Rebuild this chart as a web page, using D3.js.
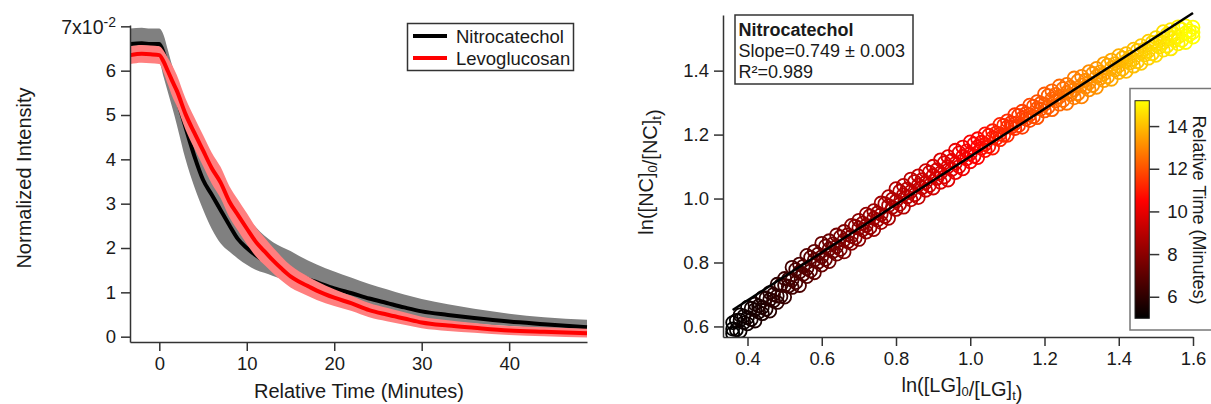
<!DOCTYPE html>
<html>
<head>
<meta charset="utf-8">
<script src="https://cdn.jsdelivr.net/npm/d3@7"></script>
<style>
  body { margin: 0; background: #fff; }
  svg text { font-family: "Liberation Sans", Arial, sans-serif; fill: #1a1a1a; }
</style>
</head>
<body>
<svg id="chart" width="1211" height="404"></svg>
<script>
// ---- left panel: normalized intensity (x10^-2) vs relative time (min) ----
const relTime = [-3.3, -2, -1, 0, 0.5, 1, 1.5, 2, 3, 4, 5, 6, 7, 8, 9, 10, 11, 12, 13, 14, 15, 16, 17, 18, 20, 22, 24, 26, 28, 30, 33, 36, 40, 44, 48.9];
const ncMean  = [6.6, 6.62, 6.6, 6.6, 6.4, 6.05, 5.72, 5.38, 4.72, 4.08, 3.54, 3.2, 2.86, 2.52, 2.2, 2.0, 1.84, 1.71, 1.6, 1.51, 1.44, 1.38, 1.3, 1.23, 1.09, 0.98, 0.86, 0.76, 0.66, 0.57, 0.49, 0.42, 0.34, 0.28, 0.21];
const ncUpper = [6.95, 6.97, 6.95, 6.95, 6.8, 6.45, 6.1, 5.8, 5.25, 4.8, 4.35, 3.95, 3.6, 3.25, 2.95, 2.7, 2.48, 2.28, 2.13, 2.02, 1.93, 1.82, 1.72, 1.63, 1.47, 1.33, 1.19, 1.07, 0.95, 0.85, 0.73, 0.63, 0.52, 0.44, 0.38];
const ncLower = [6.2, 6.22, 6.2, 6.18, 5.85, 5.5, 5.15, 4.78, 4.0, 3.38, 2.87, 2.43, 2.11, 1.92, 1.76, 1.62, 1.51, 1.44, 1.37, 1.3, 1.22, 1.15, 1.07, 1.0, 0.86, 0.75, 0.64, 0.56, 0.48, 0.41, 0.35, 0.3, 0.24, 0.19, 0.13];
const lgMean  = [6.35, 6.38, 6.37, 6.35, 6.2, 5.98, 5.76, 5.55, 5.02, 4.6, 4.2, 3.8, 3.48, 3.05, 2.74, 2.44, 2.15, 1.93, 1.72, 1.53, 1.36, 1.24, 1.14, 1.04, 0.88, 0.75, 0.6, 0.5, 0.41, 0.32, 0.25, 0.2, 0.14, 0.11, 0.08];
const lgUpper = [6.55, 6.58, 6.57, 6.55, 6.45, 6.28, 6.11, 5.9, 5.37, 4.95, 4.55, 4.15, 3.83, 3.4, 3.09, 2.79, 2.48, 2.24, 2.01, 1.8, 1.61, 1.47, 1.36, 1.25, 1.07, 0.92, 0.76, 0.65, 0.55, 0.45, 0.37, 0.31, 0.24, 0.21, 0.18];
const lgLower = [6.15, 6.18, 6.17, 6.15, 5.95, 5.68, 5.41, 5.2, 4.67, 4.25, 3.85, 3.45, 3.13, 2.7, 2.39, 2.09, 1.82, 1.62, 1.43, 1.26, 1.11, 1.01, 0.92, 0.83, 0.69, 0.58, 0.44, 0.35, 0.27, 0.19, 0.13, 0.09, 0.04, 0.01, -0.02];
const timeTicks = [0, 10, 20, 30, 40];
const intensityTicks = [0, 1, 2, 3, 4, 5, 6, 7];
const legendNames = ["Nitrocatechol", "Levoglucosan"];

// ---- right panel: ln([NC]0/[NC]t) vs ln([LG]0/[LG]t), coloured by time ----
// rings read in columns: three per whole step, two per half step
const lnLG = [0.36, 0.38, 0.40, 0.42, 0.44, 0.46, 0.48, 0.50, 0.52, 0.54, 0.56, 0.58, 0.60, 0.62, 0.64, 0.66, 0.68, 0.70, 0.72, 0.74, 0.76, 0.78, 0.80, 0.82, 0.84, 0.86, 0.88, 0.90, 0.92, 0.94, 0.96, 0.98, 1.00, 1.02, 1.04, 1.06, 1.08, 1.10, 1.12, 1.14, 1.16, 1.18, 1.20, 1.22, 1.24, 1.26, 1.28, 1.30, 1.32, 1.34, 1.36, 1.38, 1.40, 1.42, 1.44, 1.46, 1.48, 1.50, 1.52, 1.54, 1.56, 1.58, 1.60];
const lnNCLow  = [0.578, 0.585, 0.608, 0.617, 0.640, 0.648, 0.675, 0.692, 0.722, 0.728, 0.756, 0.768, 0.792, 0.803, 0.826, 0.833, 0.860, 0.872, 0.895, 0.903, 0.925, 0.938, 0.966, 0.973, 0.996, 1.003, 1.026, 1.033, 1.051, 1.058, 1.081, 1.093, 1.115, 1.128, 1.150, 1.158, 1.184, 1.198, 1.219, 1.223, 1.244, 1.253, 1.274, 1.278, 1.295, 1.298, 1.315, 1.318, 1.340, 1.348, 1.369, 1.373, 1.394, 1.398, 1.414, 1.423, 1.439, 1.448, 1.464, 1.468, 1.484, 1.488, 1.505];
const lnNCMid  = [0.592, 0.620, 0.628, 0.652, 0.660, 0.684, 0.695, 0.728, 0.745, 0.770, 0.781, 0.808, 0.818, 0.842, 0.850, 0.870, 0.882, 0.908, 0.916, 0.938, 0.950, 0.978, 0.992, 1.012, 1.022, 1.042, 1.050, 1.072, 1.080, 1.100, 1.110, 1.132, 1.140, 1.162, 1.170, 1.190, 1.202, 1.224, 1.235, 1.252, 1.262, 1.282, 1.295, 1.312, 1.318, 1.332, 1.340, 1.355, 1.362, 1.382, 1.390, 1.408, 1.415, 1.430, 1.436, 1.455, 1.461, 1.480, 1.488, 1.502, 1.506, 1.518, 1.520];
const lnNCHigh = [0.612, 0.636, 0.660, 0.670, 0.690, 0.706, 0.732, 0.750, 0.785, 0.795, 0.822, 0.835, 0.860, 0.868, 0.886, 0.897, 0.916, 0.932, 0.951, 0.962, 0.986, 1.006, 1.031, 1.041, 1.061, 1.071, 1.087, 1.101, 1.121, 1.131, 1.151, 1.161, 1.177, 1.187, 1.202, 1.212, 1.232, 1.243, 1.262, 1.273, 1.292, 1.303, 1.327, 1.337, 1.352, 1.357, 1.377, 1.382, 1.397, 1.407, 1.422, 1.433, 1.447, 1.453, 1.467, 1.478, 1.492, 1.503, 1.522, 1.528, 1.537, 1.540, 1.536];
const scatterTime = [5.0, 5.2, 5.3, 5.5, 5.6, 5.8, 6.0, 6.2, 6.4, 6.6, 6.8, 7.0, 7.2, 7.3, 7.5, 7.7, 7.9, 8.0, 8.2, 8.3, 8.5, 8.6, 8.8, 8.9, 9.1, 9.2, 9.4, 9.5, 9.7, 9.8, 10.0, 10.2, 10.4, 10.5, 10.7, 10.9, 11.1, 11.3, 11.4, 11.6, 11.8, 12.0, 12.1, 12.3, 12.4, 12.6, 12.8, 12.9, 13.1, 13.2, 13.4, 13.6, 13.7, 13.9, 14.0, 14.2, 14.3, 14.5, 14.6, 14.8, 14.9, 15.1, 15.2];
const lnLGHalf = [0.37, 0.39, 0.41, 0.43, 0.45, 0.47, 0.49, 0.51, 0.53, 0.55, 0.57, 0.59, 0.61, 0.63, 0.65, 0.67, 0.69, 0.71, 0.73, 0.75, 0.77, 0.79, 0.81, 0.83, 0.85, 0.87, 0.89, 0.91, 0.93, 0.95, 0.97, 0.99, 1.01, 1.03, 1.05, 1.07, 1.09, 1.11, 1.13, 1.15, 1.17, 1.19, 1.21, 1.23, 1.25, 1.27, 1.29, 1.31, 1.33, 1.35, 1.37, 1.39, 1.41, 1.43, 1.45, 1.47, 1.49, 1.51, 1.53, 1.55, 1.57, 1.59];
const lnNCHalfA = [0.590, 0.612, 0.622, 0.645, 0.654, 0.680, 0.694, 0.726, 0.737, 0.763, 0.774, 0.801, 0.810, 0.834, 0.841, 0.865, 0.877, 0.902, 0.909, 0.933, 0.944, 0.973, 0.982, 1.005, 1.012, 1.034, 1.041, 1.063, 1.068, 1.091, 1.100, 1.124, 1.132, 1.157, 1.163, 1.188, 1.198, 1.223, 1.228, 1.249, 1.256, 1.280, 1.286, 1.305, 1.307, 1.325, 1.328, 1.348, 1.354, 1.376, 1.381, 1.402, 1.405, 1.424, 1.428, 1.449, 1.453, 1.474, 1.477, 1.494, 1.495, 1.512];
const lnNCHalfB = [0.619, 0.632, 0.657, 0.664, 0.689, 0.700, 0.730, 0.748, 0.778, 0.788, 0.816, 0.826, 0.851, 0.858, 0.880, 0.887, 0.914, 0.923, 0.946, 0.955, 0.984, 0.998, 1.023, 1.030, 1.053, 1.059, 1.082, 1.090, 1.112, 1.119, 1.143, 1.149, 1.171, 1.176, 1.198, 1.205, 1.229, 1.237, 1.260, 1.266, 1.289, 1.298, 1.322, 1.326, 1.344, 1.348, 1.368, 1.370, 1.391, 1.396, 1.417, 1.422, 1.440, 1.443, 1.463, 1.468, 1.488, 1.494, 1.514, 1.514, 1.529, 1.525];
const halfTime = [5.1, 5.25, 5.4, 5.55, 5.7, 5.9, 6.1, 6.3, 6.5, 6.7, 6.9, 7.1, 7.25, 7.4, 7.6, 7.8, 7.95, 8.1, 8.25, 8.4, 8.55, 8.7, 8.85, 9.0, 9.15, 9.3, 9.45, 9.6, 9.75, 9.9, 10.1, 10.3, 10.45, 10.6, 10.8, 11.0, 11.2, 11.35, 11.5, 11.7, 11.9, 12.05, 12.2, 12.35, 12.5, 12.7, 12.85, 13.0, 13.15, 13.3, 13.5, 13.65, 13.8, 13.95, 14.1, 14.25, 14.4, 14.55, 14.7, 14.85, 15.0, 15.15];
const fitSlope = 0.749, fitIntercept = 0.382, fitRange = [0.36, 1.60];
const lgTicks = [0.4, 0.6, 0.8, 1.0, 1.2, 1.4, 1.6];
const ncTicks = [0.6, 0.8, 1.0, 1.2, 1.4];
const colorTicks = [6, 8, 10, 12, 14];
const colorStops = [5, 10.5, 15.2];
const colorRange = ["#000000", "#ff0000", "#ffff00"];

const svg = d3.select("#chart");
const axisColor = "#333";

function styleAxis(g, fontSize) {
    g.selectAll("path, line").attr("stroke", axisColor).attr("stroke-width", 1.5);
    g.selectAll("text").attr("font-size", fontSize).attr("fill", "#1a1a1a")
        .attr("font-family", '"Liberation Sans", Arial, sans-serif');
}

// ================= left panel =================
const x = d3.scaleLinear().domain([-3.35, 48.9]).range([130, 587]);
const y = d3.scaleLinear().domain([-0.12, 7.03]).range([342, 25]);

svg.append("clipPath").attr("id", "clipL")
    .append("rect").attr("x", 130).attr("y", 10).attr("width", 460).attr("height", 332);

const left = svg.append("g").attr("clip-path", "url(#clipL)");
const rows = relTime.map((t, i) => ({ t, i }));

const band = (lo, hi) => d3.area().curve(d3.curveMonotoneX)
    .x(d => x(d.t)).y0(d => y(lo[d.i])).y1(d => y(hi[d.i]));
const trace = vals => d3.line().curve(d3.curveMonotoneX)
    .x(d => x(d.t)).y(d => y(vals[d.i]));

left.append("path").attr("d", band(ncLower, ncUpper)(rows)).attr("fill", "#808080");
left.append("path").attr("d", trace(ncMean)(rows)).attr("fill", "none")
    .attr("stroke", "#000").attr("stroke-width", 4);
left.append("path").attr("d", band(lgLower, lgUpper)(rows)).attr("fill", "#ff7f7f");
left.append("path").attr("d", trace(lgMean)(rows)).attr("fill", "none")
    .attr("stroke", "#ff0000").attr("stroke-width", 4);

const yAxisL = svg.append("g").attr("transform", "translate(130,0)")
    .call(d3.axisLeft(y).tickValues(intensityTicks).tickSize(9).tickSizeOuter(0).tickPadding(5)
        .tickFormat(d => d === 7 ? "" : d));
styleAxis(yAxisL, 18.5);
// top tick label carries the scale factor
const sci = yAxisL.append("text").attr("x", -14).attr("y", y(7)).attr("dy", "0.4em")
    .attr("text-anchor", "end").attr("font-size", 19.5).attr("fill", "#1a1a1a");
sci.append("tspan").text("7x10");
sci.append("tspan").attr("dy", "-0.5em").attr("font-size", 14).text("-2");

const xAxisL = svg.append("g").attr("transform", "translate(0,342)")
    .call(d3.axisBottom(x).tickValues(timeTicks).tickSize(9).tickSizeOuter(0).tickPadding(6));
styleAxis(xAxisL, 18.5);

svg.append("text").attr("x", 359).attr("y", 398).attr("text-anchor", "middle")
    .attr("font-size", 20).text("Relative Time (Minutes)");
svg.append("text").attr("transform", "translate(31,178) rotate(-90)").attr("text-anchor", "middle")
    .attr("font-size", 20).text("Normalized Intensity");

// legend
const legend = svg.append("g");
legend.append("rect").attr("x", 407.5).attr("y", 23.5).attr("width", 166).attr("height", 47)
    .attr("fill", "#fff").attr("stroke", axisColor).attr("stroke-width", 1.5);
legendNames.forEach((name, i) => {
    const ly = 36 + i * 22;
    legend.append("line").attr("x1", 413).attr("x2", 447).attr("y1", ly).attr("y2", ly)
        .attr("stroke", i === 0 ? "#000" : "#ff0000").attr("stroke-width", 4);
    legend.append("text").attr("x", 456).attr("y", ly).attr("dy", "0.36em")
        .attr("font-size", 18.5).text(name);
});

// ================= right panel =================
const xr = d3.scaleLinear().domain([0.334, 1.60]).range([723, 1193]);
const yr = d3.scaleLinear().domain([0.567, 1.574]).range([337, 15]);
const color = d3.scaleLinear().domain(colorStops).range(colorRange).clamp(true);

svg.append("clipPath").attr("id", "clipR")
    .append("rect").attr("x", 723).attr("y", 8).attr("width", 488).attr("height", 329);

const pts = [];
lnLG.forEach((u, i) => {
    [lnNCLow[i], lnNCHigh[i], lnNCMid[i]].forEach(w => pts.push({ u, w, t: scatterTime[i] }));
    if (i < lnLGHalf.length) {
        [lnNCHalfA[i], lnNCHalfB[i]].forEach(w => pts.push({ u: lnLGHalf[i], w, t: halfTime[i] }));
    }
});

const right = svg.append("g").attr("clip-path", "url(#clipR)");
right.selectAll("circle").data(pts).join("circle")
    .attr("cx", d => xr(d.u)).attr("cy", d => yr(d.w)).attr("r", 6.5)
    .attr("fill", "none").attr("stroke", d => color(d.t)).attr("stroke-width", 1.8);

right.append("line")
    .attr("x1", xr(fitRange[0])).attr("y1", yr(fitIntercept + fitSlope * fitRange[0]))
    .attr("x2", xr(fitRange[1])).attr("y2", yr(fitIntercept + fitSlope * fitRange[1]))
    .attr("stroke", "#000").attr("stroke-width", 2.5);

const yAxisR = svg.append("g").attr("transform", "translate(723,0)")
    .call(d3.axisLeft(yr).tickValues(ncTicks).tickSize(9).tickSizeOuter(0).tickPadding(5).tickFormat(d3.format(".1f")));
styleAxis(yAxisR, 18.5);
const xAxisR = svg.append("g").attr("transform", "translate(0,337)")
    .call(d3.axisBottom(xr).tickValues(lgTicks).tickSize(9).tickSizeOuter(0).tickPadding(6).tickFormat(d3.format(".1f")));
styleAxis(xAxisR, 18.5);

function subLabel(sel, parts) {
    parts.forEach(([txt, sub]) => {
        sel.append("tspan").text(txt);
        if (sub) {
            sel.append("tspan").attr("dy", "0.3em").attr("font-size", 13).text(sub);
            sel.append("tspan").attr("dy", "-0.3em").text("");
        }
    });
}
const xLabR = svg.append("text").attr("x", 962).attr("y", 392).attr("text-anchor", "middle").attr("font-size", 20);
subLabel(xLabR, [["ln([LG]", "0"], ["/[LG]", "t"], [")", null]]);
const yLabR = svg.append("text").attr("transform", "translate(653,172) rotate(-90)")
    .attr("text-anchor", "middle").attr("font-size", 20);
subLabel(yLabR, [["ln([NC]", "0"], ["/[NC]", "t"], [")", null]]);

// fit annotation
const note = svg.append("g");
note.append("rect").attr("x", 735).attr("y", 15).attr("width", 178).attr("height", 69)
    .attr("fill", "#fff").attr("stroke", axisColor).attr("stroke-width", 1.5);
note.append("text").attr("x", 738.5).attr("y", 35.5).attr("font-size", 18).attr("font-weight", "bold").text("Nitrocatechol");
note.append("text").attr("x", 738.5).attr("y", 56.5).attr("font-size", 18)
    .text(`Slope=${fitSlope} \u00b1 0.003`);
note.append("text").attr("x", 738.5).attr("y", 77.5).attr("font-size", 18).text("R\u00b2=0.989");

// colour scale
const cb = d3.scaleLinear().domain([4.99, 15.19]).range([318.3, 100.7]);
const defs = svg.append("defs");
const grad = defs.append("linearGradient").attr("id", "timeGrad")
    .attr("x1", 0).attr("y1", 1).attr("x2", 0).attr("y2", 0);
colorStops.forEach((s, i) => {
    grad.append("stop").attr("offset", (s - cb.domain()[0]) / (cb.domain()[1] - cb.domain()[0]))
        .attr("stop-color", colorRange[i]);
});
svg.append("rect").attr("x", 1130).attr("y", 88.5).attr("width", 100).attr("height", 241.5)
    .attr("fill", "#fff").attr("stroke", "#777").attr("stroke-width", 1.5);
svg.append("rect").attr("x", 1135).attr("y", cb.range()[1]).attr("width", 14.3)
    .attr("height", cb.range()[0] - cb.range()[1])
    .attr("fill", "url(#timeGrad)").attr("stroke", "#222").attr("stroke-width", 1);
const cbAxis = svg.append("g").attr("transform", "translate(1149.3,0)")
    .call(d3.axisRight(cb).tickValues(colorTicks).tickSize(10).tickSizeOuter(0).tickPadding(8));
cbAxis.select(".domain").remove();
styleAxis(cbAxis, 18.5);
svg.append("text").attr("transform", "translate(1193,210) rotate(90)").attr("text-anchor", "middle")
    .attr("font-size", 18).text("Relative Time (Minutes)");
</script>
</body>
</html>
